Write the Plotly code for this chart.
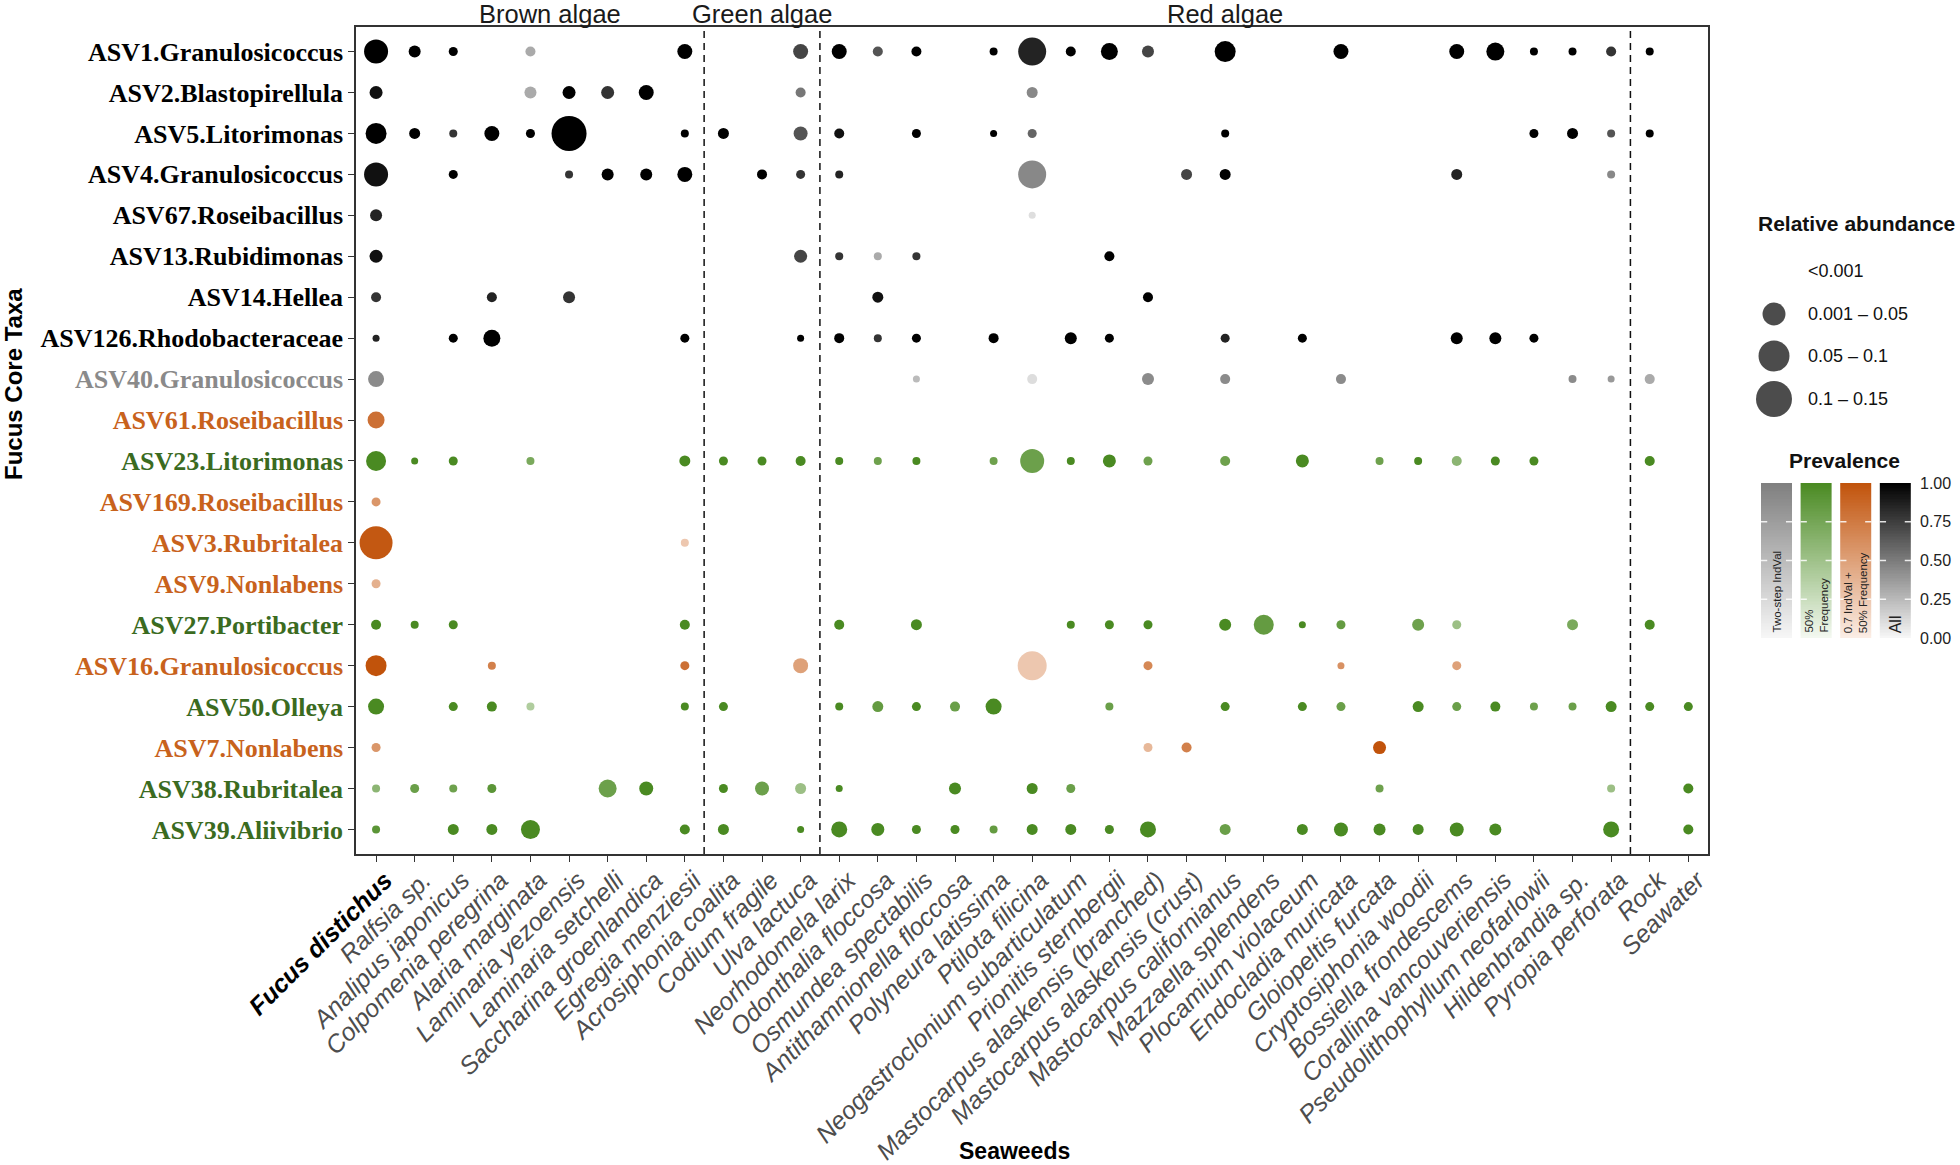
import numpy as np
import plotly.graph_objects as go

# ---------------- data ----------------
seaweeds = ["Fucus distichus", "Ralfsia sp.", "Analipus japonicus", "Colpomenia peregrina",
            "Alaria marginata", "Laminaria yezoensis", "Laminaria setchelli",
            "Saccharina groenlandica", "Egregia menziesii", "Acrosiphonia coalita",
            "Codium fragile", "Ulva lactuca", "Neorhodomela larix", "Odonthalia floccosa",
            "Osmundea spectabilis", "Antithamnionella floccosa", "Polyneura latissima",
            "Ptilota filicina", "Neogastroclonium subarticulatum", "Prionitis sternbergii",
            "Mastocarpus alaskensis (branched)", "Mastocarpus alaskensis (crust)",
            "Mastocarpus californianus", "Mazzaella splendens", "Plocamium violaceum",
            "Endocladia muricata", "Gloiopeltis furcata", "Cryptosiphonia woodii",
            "Bossiella frondescems", "Corallina vancouveriensis",
            "Pseudolithophyllum neofarlowii", "Hildenbrandia sp.", "Pyropia perforata",
            "Rock", "Seawater"]

seaweed_groups = [("Brown algae", "Ralfsia sp.", "Egregia menziesii"),
                  ("Green algae", "Acrosiphonia coalita", "Ulva lactuca"),
                  ("Red algae", "Neorhodomela larix", "Pyropia perforata")]

taxa = ["ASV1.Granulosicoccus", "ASV2.Blastopirellula", "ASV5.Litorimonas",
        "ASV4.Granulosicoccus", "ASV67.Roseibacillus", "ASV13.Rubidimonas",
        "ASV14.Hellea", "ASV126.Rhodobacteraceae", "ASV40.Granulosicoccus",
        "ASV61.Roseibacillus", "ASV23.Litorimonas", "ASV169.Roseibacillus",
        "ASV3.Rubritalea", "ASV9.Nonlabens", "ASV27.Portibacter",
        "ASV16.Granulosicoccus", "ASV50.Olleya", "ASV7.Nonlabens",
        "ASV38.Rubritalea", "ASV39.Aliivibrio"]

taxa_method = ["All", "All", "All", "All", "All", "All", "All", "All",
               "Two-step IndVal", "IndVal+Freq", "50% Frequency", "IndVal+Freq",
               "IndVal+Freq", "IndVal+Freq", "50% Frequency", "IndVal+Freq",
               "50% Frequency", "IndVal+Freq", "50% Frequency", "50% Frequency"]

# (seaweed index, relative abundance, prevalence)
asv1 = [(0, 0.0667, 1.0), (1, 0.0167, 1.0), (2, 0.0094, 1.0), (4, 0.0116, 0.31),
        (8, 0.026, 1.0), (11, 0.026, 0.72), (12, 0.026, 1.0), (13, 0.0116, 0.66),
        (14, 0.0116, 1.0), (16, 0.0074, 1.0), (17, 0.0907, 0.86), (18, 0.0116, 1.0),
        (19, 0.0334, 1.0), (20, 0.0167, 0.72), (22, 0.051, 1.0), (25, 0.026, 1.0),
        (28, 0.026, 1.0), (29, 0.0375, 1.0), (30, 0.0074, 1.0), (31, 0.0074, 1.0),
        (32, 0.0116, 0.79), (33, 0.0074, 1.0)]
asv2 = [(0, 0.0196, 0.93), (4, 0.0167, 0.31), (5, 0.0196, 1.0), (6, 0.0196, 0.79),
        (7, 0.026, 1.0), (11, 0.0116, 0.52), (17, 0.014, 0.45)]
asv5 = [(0, 0.051, 1.0), (1, 0.014, 1.0), (2, 0.0074, 0.79), (3, 0.026, 1.0),
        (4, 0.0094, 1.0), (5, 0.142, 1.0), (8, 0.0074, 1.0), (9, 0.014, 1.0),
        (11, 0.0227, 0.66), (12, 0.0116, 0.93), (14, 0.0094, 1.0), (16, 0.0057, 1.0),
        (17, 0.0094, 0.59), (22, 0.0074, 1.0), (30, 0.0094, 1.0), (31, 0.014, 1.0),
        (32, 0.0074, 0.66), (33, 0.0074, 1.0)]
asv4 = [(0, 0.0667, 0.93), (2, 0.0094, 1.0), (5, 0.0074, 0.79), (6, 0.0167, 1.0),
        (7, 0.0167, 1.0), (8, 0.026, 1.0), (10, 0.0116, 1.0), (11, 0.0094, 0.79),
        (12, 0.0074, 0.86), (17, 0.0907, 0.45), (21, 0.014, 0.72), (22, 0.014, 1.0),
        (28, 0.014, 0.86), (32, 0.0074, 0.45)]
asv67 = [(0, 0.0167, 0.86), (17, 0.0057, 0.10)]
asv13 = [(0, 0.0196, 0.93), (11, 0.0196, 0.72), (12, 0.0074, 0.79), (13, 0.0074, 0.31),
         (14, 0.0074, 0.79), (19, 0.0116, 1.0)]
asv14 = [(0, 0.0116, 0.79), (3, 0.0116, 0.86), (5, 0.0167, 0.79), (13, 0.014, 0.93),
         (20, 0.0116, 1.0)]
asv126 = [(0, 0.0057, 0.86), (2, 0.0094, 1.0), (3, 0.0334, 1.0), (8, 0.0094, 1.0),
          (11, 0.0057, 1.0), (12, 0.0116, 1.0), (13, 0.0074, 0.79), (14, 0.0094, 1.0),
          (16, 0.0116, 1.0), (18, 0.0167, 1.0), (19, 0.0094, 1.0), (22, 0.0094, 0.86),
          (24, 0.0094, 1.0), (28, 0.0167, 1.0), (29, 0.0167, 1.0), (30, 0.0094, 1.0)]
asv40 = [(0, 0.0296, 0.90), (14, 0.0057, 0.50), (17, 0.0116, 0.22), (20, 0.0167, 0.90),
         (22, 0.0116, 0.90), (25, 0.0116, 0.90), (31, 0.0074, 0.90), (32, 0.0057, 0.78),
         (33, 0.0116, 0.64)]
asv61 = [(0, 0.0334, 0.81)]
asv23 = [(0, 0.0463, 1.0), (1, 0.0057, 1.0), (2, 0.0094, 1.0), (4, 0.0074, 0.72),
         (8, 0.014, 1.0), (9, 0.0094, 1.0), (10, 0.0094, 1.0), (11, 0.0116, 1.0),
         (12, 0.0074, 1.0), (13, 0.0074, 0.79), (14, 0.0074, 1.0), (16, 0.0074, 0.79),
         (17, 0.0667, 0.80), (18, 0.0074, 1.0), (19, 0.0196, 1.0), (20, 0.0094, 0.79),
         (22, 0.0116, 0.79), (24, 0.0196, 1.0), (26, 0.0074, 0.79), (27, 0.0074, 1.0),
         (28, 0.0116, 0.61), (29, 0.0094, 1.0), (30, 0.0094, 1.0), (33, 0.0116, 1.0)]
asv169 = [(0, 0.0094, 0.57)]
asv3 = [(0, 0.126, 0.97), (8, 0.0074, 0.25)]
asv9 = [(0, 0.0094, 0.40)]
asv27 = [(0, 0.0116, 1.0), (1, 0.0074, 1.0), (2, 0.0094, 1.0), (8, 0.0116, 1.0),
         (12, 0.0116, 1.0), (14, 0.014, 1.0), (18, 0.0074, 1.0), (19, 0.0094, 1.0),
         (20, 0.0094, 1.0), (22, 0.0167, 1.0), (23, 0.0463, 0.85), (24, 0.0057, 1.0),
         (25, 0.0094, 0.85), (27, 0.0167, 0.79), (28, 0.0094, 0.52), (31, 0.014, 0.72),
         (33, 0.0116, 1.0)]
asv16 = [(0, 0.051, 1.0), (3, 0.0074, 0.71), (8, 0.0094, 0.81), (11, 0.026, 0.50),
         (17, 0.0973, 0.25), (20, 0.0094, 0.66), (25, 0.0057, 0.60), (28, 0.0094, 0.50)]
asv50 = [(0, 0.0296, 1.0), (2, 0.0094, 1.0), (3, 0.0116, 1.0), (4, 0.0074, 0.40),
         (8, 0.0074, 1.0), (9, 0.0094, 1.0), (12, 0.0074, 1.0), (13, 0.014, 0.85),
         (14, 0.0094, 1.0), (15, 0.0116, 0.81), (16, 0.0296, 1.0), (19, 0.0074, 0.81),
         (22, 0.0094, 1.0), (24, 0.0094, 1.0), (25, 0.0094, 0.81), (27, 0.014, 1.0),
         (28, 0.0094, 0.81), (29, 0.0116, 1.0), (30, 0.0074, 0.79), (31, 0.0074, 0.81),
         (32, 0.014, 1.0), (33, 0.0094, 1.0), (34, 0.0094, 1.0)]
asv7 = [(0, 0.0094, 0.57), (20, 0.0094, 0.35), (21, 0.0116, 0.71), (26, 0.0196, 1.0)]
asv38 = [(0, 0.0074, 0.61), (1, 0.0094, 0.81), (2, 0.0074, 0.79), (3, 0.0094, 0.90),
         (6, 0.0375, 0.80), (7, 0.0227, 1.0), (9, 0.0094, 1.0), (10, 0.0227, 0.80),
         (11, 0.014, 0.52), (12, 0.0057, 1.0), (15, 0.0167, 1.0), (17, 0.014, 1.0),
         (18, 0.0094, 0.81), (26, 0.0074, 0.79), (32, 0.0074, 0.52), (34, 0.0116, 1.0)]
asv39 = [(0, 0.0074, 0.90), (2, 0.014, 1.0), (3, 0.014, 1.0), (4, 0.0418, 1.0),
         (8, 0.0116, 1.0), (9, 0.014, 1.0), (11, 0.0057, 1.0), (12, 0.0296, 1.0),
         (13, 0.0196, 1.0), (14, 0.0094, 1.0), (15, 0.0094, 1.0), (16, 0.0074, 0.85),
         (17, 0.014, 1.0), (18, 0.014, 1.0), (19, 0.0094, 1.0), (20, 0.0296, 1.0),
         (22, 0.014, 0.81), (24, 0.014, 1.0), (25, 0.0227, 1.0), (26, 0.0167, 1.0),
         (27, 0.014, 1.0), (28, 0.0227, 1.0), (29, 0.0167, 1.0), (32, 0.0296, 1.0),
         (34, 0.0116, 1.0)]

taxa_points = [asv1, asv2, asv5, asv4, asv67, asv13, asv14, asv126, asv40, asv61,
               asv23, asv169, asv3, asv9, asv27, asv16, asv50, asv7, asv38, asv39]

size_legend_labels = ["<0.001", "0.001 – 0.05", "0.05 – 0.1", "0.1 – 0.15"]
size_legend_keys = [0.0, 0.061, 0.111, 0.15]

prevalence_ticks = [0.0, 0.25, 0.5, 0.75, 1.0]
method_order = ["Two-step IndVal", "50% Frequency", "IndVal+Freq", "All"]
method_bar_text = ["Two-step IndVal", "50%<br>Frequency", "0.7 IndVal +<br>50% Frequency", "All"]

# ---------------- style ----------------
W, H = 1960, 1165
PX_L, PX_R, PX_T, PX_B = 356, 1708, 27, 854
SANS = "Liberation Sans, Arial, Helvetica, sans-serif"
SERIF = "Liberation Serif, Times New Roman, serif"

scales = {
    "Two-step IndVal": [[0, "#f7f7f7"], [1, "#7f7f7f"]],
    "50% Frequency": [[0, "#f4f9f1"], [1, "#4a8a22"]],
    "IndVal+Freq": [[0, "#fbeee6"], [1, "#c1530b"]],
    "All": [[0, "#f7f7f7"], [1, "#000000"]],
}
label_colors = {"All": "#000000", "Two-step IndVal": "#8a8a8a",
                "50% Frequency": "#3b6b1f", "IndVal+Freq": "#c8621c"}

max_abund, max_px = 0.15, 36
sizeref = 2.0 * max_abund / max_px ** 2


def px_x(p):
    return p / W


def px_y(p):
    return 1 - p / H


fig = go.Figure()

for r, (name, method, pts) in enumerate(zip(taxa, taxa_method, taxa_points)):
    fig.add_trace(go.Scatter(
        x=[p[0] for p in pts], y=[r] * len(pts), mode="markers",
        marker=dict(size=[p[1] for p in pts], sizemode="area", sizeref=sizeref,
                    color=[p[2] for p in pts], colorscale=scales[method],
                    cmin=0, cmax=1, showscale=False, line=dict(width=0), opacity=1),
        hovertext=[f"{name}<br>{seaweeds[p[0]]}<br>abund={p[1]}<br>prev={p[2]}" for p in pts],
        hoverinfo="text", showlegend=False, xaxis="x", yaxis="y"))

# size legend
leg_rows_px = [271, 314, 356, 399]
fig.add_trace(go.Scatter(
    x=[1774] * 4, y=leg_rows_px, mode="markers",
    marker=dict(size=size_legend_keys, sizemode="area", sizeref=sizeref, color="black",
                line=dict(width=0)),
    hoverinfo="skip", showlegend=False, xaxis="x2", yaxis="y2"))

# prevalence bars
bar_gap = 1.27
edges = np.linspace(0, 1, 101)
centers = (edges[:-1] + edges[1:]) / 2
for k, m in enumerate(method_order):
    xc = k * bar_gap
    fig.add_trace(go.Heatmap(
        x=[xc - 0.5, xc + 0.5], y=edges, z=[[c] for c in centers],
        colorscale=scales[m], zmin=0, zmax=1, showscale=False,
        hoverinfo="skip", xaxis="x3", yaxis="y3"))

shapes = []
# dashed group separators
names_idx = {s: i for i, s in enumerate(seaweeds)}
seps = [names_idx[g[2]] + 0.5 for g in seaweed_groups]
for s in seps:
    shapes.append(dict(type="line", xref="x", yref="y domain", x0=s, x1=s, y0=0, y1=1,
                       line=dict(color="#111111", width=1.5, dash="7px,5px")))
# white ticks on prevalence bars
for k in range(4):
    xc = k * bar_gap
    for v in prevalence_ticks[1:-1]:
        for a, b in [(xc - 0.5, xc - 0.3), (xc + 0.3, xc + 0.5)]:
            shapes.append(dict(type="line", xref="x3", yref="y3", x0=a, x1=b, y0=v, y1=v,
                               line=dict(color="rgba(255,255,255,0.85)", width=1.5)))

annotations = []
for g, a, b in seaweed_groups:
    annotations.append(dict(text=g, x=(names_idx[a] + names_idx[b]) / 2, xref="x",
                            y=px_y(14), yref="paper", showarrow=False, yanchor="middle",
                            xanchor="center",
                            font=dict(family=SANS, size=25.5, color="#1a1a1a")))
annotations.append(dict(text="<b>Fucus Core Taxa</b>", x=px_x(14), y=px_y(384),
                        xref="paper", yref="paper", showarrow=False, textangle=-90,
                        xanchor="center", yanchor="middle",
                        font=dict(family=SANS, size=24, color="#000000")))
annotations.append(dict(text="<b>Seaweeds</b>", x=px_x(1014), y=px_y(1151),
                        xref="paper", yref="paper", showarrow=False, yanchor="middle",
                        xanchor="center",
                        font=dict(family=SANS, size=23, color="#000000")))
annotations.append(dict(text="<b>Relative abundance</b>", x=px_x(1756), y=px_y(223),
                        xref="paper", yref="paper", showarrow=False, xanchor="left",
                        yanchor="middle", font=dict(family=SANS, size=21, color="#111")))
for lab, yp in zip(size_legend_labels, leg_rows_px):
    annotations.append(dict(text=lab, x=1806, y=yp, xref="x2", yref="y2", showarrow=False,
                            xanchor="left", yanchor="middle",
                            font=dict(family=SANS, size=18, color="#111")))
annotations.append(dict(text="<b>Prevalence</b>", x=px_x(1844), y=px_y(460),
                        xref="paper", yref="paper", showarrow=False, yanchor="middle",
                        xanchor="center",
                        font=dict(family=SANS, size=21, color="#111")))
for k, t in enumerate(method_bar_text):
    annotations.append(dict(text=t, x=k * bar_gap, y=0.02, xref="x3", yref="y3",
                            showarrow=False, textangle=-90, yanchor="bottom",
                            xanchor="center", align="left",
                            font=dict(family=SANS, size=16 if t == "All" else 11.5,
                                      color="#222")))

xt = []
for i, s in enumerate(seaweeds):
    if i == 0:
        xt.append(f"<span style='color:#000000'><b><i>{s}</i></b></span>")
    else:
        xt.append(f"<i>{s}</i>")
yt = [f"<span style='color:{label_colors[m]}'><b>{t}</b></span>"
      for t, m in zip(taxa, taxa_method)]

fig.update_layout(
    width=W, height=H, margin=dict(l=0, r=0, t=0, b=0),
    paper_bgcolor="white", plot_bgcolor="white",
    shapes=shapes, annotations=annotations, showlegend=False,
    xaxis=dict(domain=[px_x(PX_L), px_x(PX_R)], range=[-0.52, 34.51],
               tickmode="array", tickvals=list(range(len(seaweeds))), ticktext=xt,
               tickangle=-45, tickfont=dict(family=SANS, size=25, color="#4d4d4d"),
               ticks="outside", ticklen=6, tickwidth=1.3, tickcolor="#333",
               showgrid=False, zeroline=False, showline=True, mirror=True,
               linecolor="#333", linewidth=1.5, automargin=False, anchor="y"),
    yaxis=dict(domain=[px_y(PX_B), px_y(PX_T)], range=[19.6, -0.6],
               tickmode="array", tickvals=list(range(len(taxa))), ticktext=yt,
               tickfont=dict(family=SERIF, size=26),
               ticks="outside", ticklen=6, tickwidth=1.3, tickcolor="#333",
               showgrid=False, zeroline=False, showline=True, mirror=True,
               linecolor="#333", linewidth=1.5, automargin=False, anchor="x"),
    xaxis2=dict(domain=[px_x(1740), 1.0], range=[1740, 1960], visible=False,
                anchor="y2", fixedrange=True),
    yaxis2=dict(domain=[px_y(420), px_y(250)], range=[420, 250], visible=False,
                anchor="x2", fixedrange=True),
    xaxis3=dict(domain=[px_x(1761), px_x(1911)], range=[-0.5, 3 * bar_gap + 0.5],
                visible=False, anchor="y3", fixedrange=True),
    yaxis3=dict(domain=[px_y(638), px_y(483)], range=[0, 1], anchor="x3", side="right",
                tickmode="array", tickvals=prevalence_ticks,
                ticktext=[f"{v:.2f}" for v in prevalence_ticks],
                tickfont=dict(family=SANS, size=16, color="#222"),
                ticks="", ticklabelstandoff=8, showgrid=False, zeroline=False,
                showline=False, fixedrange=True, automargin=False),
)

# nudge x labels so their ends sit slightly right of the ticks, as in the reference
try:
    fig.update_layout(xaxis_ticklabelshift=9)
except Exception:
    pass
try:
    fig.update_layout(xaxis_ticklabelstandoff=-6)
except Exception:
    pass

fig.write_html("out.html", config={"displayModeBar": False},
               post_script="document.body.style.margin='0';"
                           "document.body.style.overflow='hidden';")
